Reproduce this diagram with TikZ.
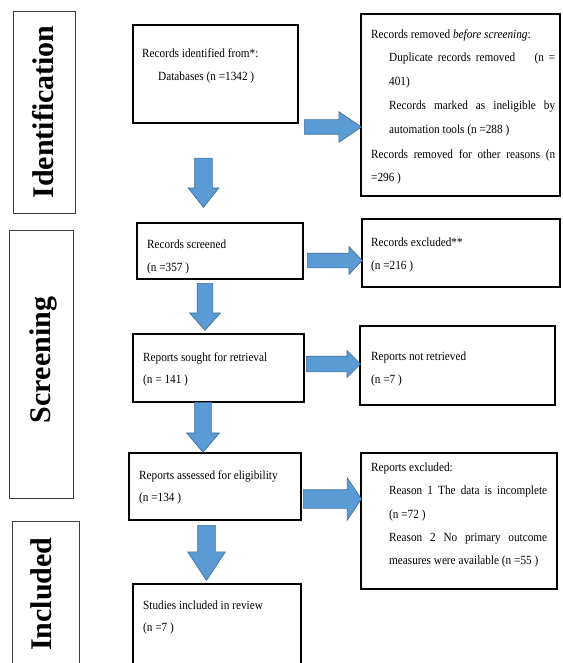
\documentclass[tikz,border=0pt]{standalone}
\usepackage{fontspec}
\usetikzlibrary{shapes.arrows,fit}
\newfontfamily\bodyfont[FakeStretch=0.9]{Liberation Serif}
\newfontfamily\phasefont{Liberation Serif}
\definecolor{arrowfill}{RGB}{91,155,213}
\definecolor{arrowline}{RGB}{65,113,156}
\definecolor{phaseline}{RGB}{60,60,60}
\tikzset{
  mainbox/.style={draw=black, line width=1.3pt, inner sep=0pt},
  phasebox/.style={draw=phaseline, line width=0.9pt, inner sep=0pt},
  txt/.style={anchor=base west, inner sep=0pt, font=\bodyfont\fontsize{12.5}{15}\selectfont},
  phasetxt/.style={anchor=base, inner sep=0pt, rotate=90, font=\phasefont\bfseries\fontsize{30}{36}\selectfont},
  blockarrow/.style={single arrow, fill=arrowfill, draw=arrowline, line width=0.7pt, inner xsep=0pt, single arrow head indent=0pt},
  downarrow/.style={blockarrow, rotate=-90, anchor=tail},
  rightarrow/.style={blockarrow, anchor=tail},
}
\begin{document}
\begin{tikzpicture}[x=1pt,y=-1pt]
\useasboundingbox (0,0) rectangle (562,663);
% phase boxes
\node[phasebox, fit={(13,11) (75,213)}] (idph) {};
\node[phasebox, fit={(9,230) (73,498)}] (scph) {};
\node[phasebox, fit={(12,521) (79,666)}] (inph) {};
\node[phasetxt] (idtxt) at (53,112) {Identification};
\node[phasetxt] (sctxt) at (50,360) {Screening};
\node[phasetxt] (intxt) at (51,594) {Included};
% main boxes
\node[mainbox, fit={(133,25) (298,123)}] (b1) {};
\node[mainbox, fit={(361,14) (560,196)}] (r1) {};
\node[mainbox, fit={(137,223) (303,279)}] (b2) {};
\node[mainbox, fit={(362,219) (560,287)}] (r2) {};
\node[mainbox, fit={(133,334) (304,402)}] (b3) {};
\node[mainbox, fit={(360,326) (555,405)}] (r3) {};
\node[mainbox, fit={(129,453) (301,520)}] (b4) {};
\node[mainbox, fit={(361,453) (557,589)}] (r4) {};
\node[mainbox, fit={(133,584) (301,666)}] (b5) {};
% texts box 1
\node[txt] (t11) at (142,58) {Records identified from*:};
\node[txt] (t12) at (158,81) {Databases (n =1342 )};
% texts right box 1
\node[txt] (t21) at (371,39) {Records removed \textit{before screening}:};
\node[txt] (t22) at (389,62) {\makebox[166pt][s]{Duplicate records removed \ \ \ (n =}};
\node[txt] (t23) at (389,86) {401)};
\node[txt] (t24) at (389,110) {\makebox[166pt][s]{Records marked as ineligible by}};
\node[txt] (t25) at (389,134) {automation tools (n =288 )};
\node[txt] (t26) at (371,158) {\makebox[184pt][s]{Records removed for other reasons (n}};
\node[txt] (t27) at (371,182) {=296 )};
% box 2
\node[txt] (t31) at (147,248) {Records screened};
\node[txt] (t32) at (147,271) {(n =357 )};
\node[txt] (t41) at (371,246) {Records excluded**};
\node[txt] (t42) at (371,269) {(n =216 )};
% box 3
\node[txt] (t51) at (143,361) {Reports sought for retrieval};
\node[txt] (t52) at (143,383) {(n = 141 )};
\node[txt] (t61) at (371,360) {Reports not retrieved};
\node[txt] (t62) at (371,383) {(n =7 )};
% box 4
\node[txt] (t71) at (139,479) {Reports assessed for eligibility};
\node[txt] (t72) at (139,501) {(n =134 )};
\node[txt] (t81) at (371,471) {Reports excluded:};
\node[txt] (t82) at (389,494) {\makebox[158pt][s]{Reason 1 The data is incomplete}};
\node[txt] (t83) at (389,518) {(n =72 )};
\node[txt] (t84) at (389,541) {\makebox[158pt][s]{Reason 2 No primary outcome}};
\node[txt] (t85) at (389,564) {measures were available (n =55 )};
% box 5
\node[txt] (t91) at (143,609) {Studies included in review};
\node[txt] (t92) at (143,631) {(n =7 )};
% block arrows
\node[downarrow, inner ysep=8.5pt, minimum height=49pt, minimum width=30pt, single arrow head extend=6.5pt, single arrow tip angle=76.6] (d1) at (203.5,158) {};
\node[downarrow, inner ysep=7.5pt, minimum height=47pt, minimum width=30pt, single arrow head extend=7.5pt, single arrow tip angle=82.9] (d2) at (205,283) {};
\node[downarrow, inner ysep=8pt, minimum height=50pt, minimum width=32pt, single arrow head extend=8pt, single arrow tip angle=80.2] (d3) at (203,402) {};
\node[downarrow, inner ysep=8.5pt, minimum height=55pt, minimum width=37pt, single arrow head extend=10pt, single arrow tip angle=67] (d4) at (206.5,525) {};
\node[rightarrow, inner ysep=7pt, minimum height=57pt, minimum width=30pt, single arrow head extend=8pt, single arrow tip angle=68.6] (a1) at (304,127) {};
\node[rightarrow, inner ysep=7pt, minimum height=55pt, minimum width=27pt, single arrow head extend=6.5pt, single arrow tip angle=92] (a2) at (307,260.5) {};
\node[rightarrow, inner ysep=7.5pt, minimum height=54pt, minimum width=26pt, single arrow head extend=5.5pt, single arrow tip angle=90] (a3) at (306,364) {};
\node[rightarrow, inner ysep=9pt, minimum height=58pt, minimum width=42pt, single arrow head extend=12pt, single arrow tip angle=112.6] (a4) at (303,499) {};
\end{tikzpicture}
\end{document}
